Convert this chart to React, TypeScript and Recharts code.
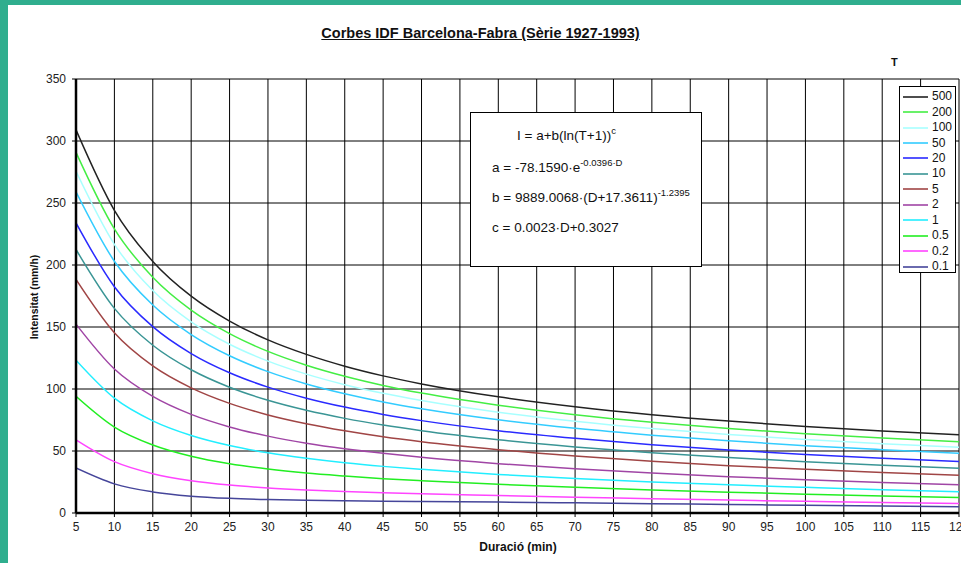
import React from 'react';
import { LineChart, Line, XAxis, YAxis, CartesianGrid, Legend } from 'recharts';

const FONT = '"Liberation Sans", Arial, Helvetica, sans-serif';

// Duration (min)
const durations = [5, 10, 15, 20, 25, 30, 35, 40, 45, 50, 60, 70, 80, 90, 100, 110, 120];
// Return periods T (years)
const returnPeriods = ['500', '200', '100', '50', '20', '10', '5', '2', '1', '0.5', '0.2', '0.1'];

// Intensity (mm/h) per return period
const t500 = [309.0, 244.1, 202.9, 174.9, 154.8, 139.6, 127.9, 118.4, 110.6, 104.1, 93.7, 85.7, 79.3, 74.1, 69.8, 66.1, 63.1];
const t200 = [290.8, 229.1, 190.1, 163.6, 144.6, 130.3, 119.2, 110.3, 102.9, 96.7, 86.9, 79.2, 73.1, 68.1, 64.0, 60.5, 57.5];
const t100 = [275.6, 216.7, 179.4, 154.2, 136.1, 122.5, 112.0, 103.5, 96.5, 90.7, 81.3, 74.0, 68.1, 63.3, 59.3, 55.9, 53.0];
const t50 = [259.0, 203.0, 167.7, 143.9, 126.8, 114.0, 104.1, 96.2, 89.6, 84.1, 75.2, 68.3, 62.8, 58.2, 54.3, 51.1, 48.2];
const t20 = [234.0, 182.5, 150.3, 128.6, 113.1, 101.5, 92.6, 85.4, 79.5, 74.5, 66.4, 60.2, 55.0, 50.8, 47.2, 44.2, 41.5];
const t10 = [212.5, 165.0, 135.3, 115.5, 101.4, 90.9, 82.8, 76.3, 70.9, 66.4, 59.1, 53.3, 48.6, 44.7, 41.4, 38.5, 36.1];
const t5 = [188.3, 145.3, 118.6, 100.9, 88.4, 79.1, 72.0, 66.3, 61.5, 57.5, 51.1, 46.0, 41.8, 38.2, 35.2, 32.6, 30.4];
const t2 = [152.3, 116.1, 94.0, 79.5, 69.4, 62.0, 56.3, 51.8, 48.1, 44.9, 39.8, 35.7, 32.2, 29.3, 26.8, 24.6, 22.7];
const t1 = [123.2, 92.6, 74.3, 62.5, 54.4, 48.5, 44.1, 40.5, 37.6, 35.2, 31.1, 27.9, 25.1, 22.7, 20.7, 18.8, 17.2];
const t05 = [94.1, 69.3, 54.9, 45.8, 39.7, 35.4, 32.2, 29.8, 27.7, 26.0, 23.1, 20.7, 18.6, 16.8, 15.2, 13.7, 12.5];
const t02 = [59.0, 41.4, 31.7, 26.0, 22.5, 20.2, 18.6, 17.4, 16.4, 15.5, 14.1, 12.7, 11.5, 10.4, 9.4, 8.4, 7.6];
const t01 = [36.3, 23.5, 17.0, 13.6, 11.8, 10.8, 10.2, 9.8, 9.5, 9.3, 8.8, 8.2, 7.5, 6.9, 6.2, 5.6, 5.0];

const xTicks = [5, 10, 15, 20, 25, 30, 35, 40, 45, 50, 55, 60, 65, 70, 75, 80, 85, 90, 95, 100, 105, 110, 115, 120];
const yTicks = [0, 50, 100, 150, 200, 250, 300, 350];

const seriesValues = [t500, t200, t100, t50, t20, t10, t5, t2, t1, t05, t02, t01];
const seriesColors = [
  '#222222', '#44ee44', '#a8ffff', '#33ccff', '#2a2aff', '#3a9595',
  '#a04545', '#a045a5', '#22eeff', '#22ee22', '#ff44ff', '#45459a',
];

const data = durations.map((d, i) => {
  const row: Record<string, number> = { d };
  seriesValues.forEach((vals, k) => {
    row['s' + k] = vals[i];
  });
  return row;
});

const renderLegend = () => (
  <div
    style={{
      width: 57,
      height: 187,
      border: '1px solid #000',
      background: '#fff',
      boxSizing: 'border-box',
      paddingTop: 2,
      fontFamily: FONT,
      fontSize: 12,
      color: '#111',
    }}
  >
    {returnPeriods.map((t, k) => (
      <div key={t} style={{ display: 'flex', alignItems: 'center', height: 15.45 }}>
        <svg width={25} height={4} style={{ marginLeft: 3, marginRight: 4, display: 'block' }}>
          <line x1={0} y1={2} x2={25} y2={2} stroke={seriesColors[k]} strokeWidth={1.6} />
        </svg>
        <span style={{ lineHeight: '13px' }}>{t}</span>
      </div>
    ))}
  </div>
);

const sup: React.CSSProperties = { fontSize: 9.5, position: 'relative', top: -6 };

export default function App() {
  return (
    <div
      style={{
        position: 'absolute',
        left: 0,
        top: 0,
        width: 961,
        height: 563,
        background: '#fff',
        overflow: 'hidden',
        fontFamily: FONT,
      }}
    >
      <div style={{ position: 'absolute', left: 0, top: 0, width: 961, height: 5, background: '#2fae8e' }} />
      <div style={{ position: 'absolute', left: 0, top: 0, width: 8, height: 563, background: '#2fae8e' }} />

      <div
        style={{
          position: 'absolute',
          left: 0,
          top: 24,
          width: 961,
          textAlign: 'center',
          fontSize: 14.5,
          fontWeight: 'bold',
          textDecoration: 'underline',
          color: '#111',
          lineHeight: '18px',
        }}
      >
        Corbes IDF Barcelona-Fabra (Sèrie 1927-1993)
      </div>

      <div style={{ position: 'absolute', left: 891, top: 55, fontSize: 11, fontWeight: 'bold', color: '#111', lineHeight: '14px' }}>
        T
      </div>

      <LineChart
        width={961}
        height={563}
        data={data}
        margin={{ top: 79, right: 2, bottom: 20, left: 16 }}
        style={{ position: 'absolute', left: 0, top: 0 }}
      >
        <CartesianGrid stroke="#000" strokeWidth={1} />
        <XAxis
          type="number"
          dataKey="d"
          domain={[5, 120]}
          ticks={xTicks}
          interval={0}
          height={30}
          tickSize={4}
          tickMargin={5}
          axisLine={{ stroke: '#000', strokeWidth: 2.5 }}
          tickLine={{ stroke: '#000' }}
          tick={{ fontSize: 12, fill: '#222', fontFamily: FONT }}
          allowDataOverflow
        />
        <YAxis
          type="number"
          domain={[0, 350]}
          ticks={yTicks}
          interval={0}
          width={60}
          tickSize={4}
          tickMargin={6}
          axisLine={{ stroke: '#000', strokeWidth: 2.5 }}
          tickLine={{ stroke: '#000' }}
          tick={{ fontSize: 12, fill: '#222', fontFamily: FONT }}
        />
        {returnPeriods.map((t, k) => (
          <Line
            key={t}
            type="monotone"
            dataKey={'s' + k}
            name={t}
            stroke={seriesColors[k]}
            strokeWidth={1.5}
            dot={false}
            activeDot={false}
            isAnimationActive={false}
          />
        ))}
        <Legend
          layout="vertical"
          align="center"
          verticalAlign="middle"
          content={renderLegend}
          wrapperStyle={{ left: 899, top: 86, width: 57, height: 187 }}
        />
      </LineChart>

      <div
        style={{
          position: 'absolute',
          left: 470,
          top: 112,
          width: 232,
          height: 155,
          border: '1px solid #000',
          background: '#fff',
          boxSizing: 'border-box',
          fontSize: 13.5,
          color: '#111',
          lineHeight: '16px',
        }}
      >
        <div style={{ position: 'absolute', left: 46, top: 15, whiteSpace: 'nowrap' }}>
          I = a+b(ln(T+1))<span style={sup}>c</span>
        </div>
        <div style={{ position: 'absolute', left: 21, top: 47, whiteSpace: 'nowrap' }}>
          a = -78.1590·e<span style={sup}>-0.0396·D</span>
        </div>
        <div style={{ position: 'absolute', left: 21, top: 77, whiteSpace: 'nowrap' }}>
          b = 9889.0068·(D+17.3611)<span style={sup}>-1.2395</span>
        </div>
        <div style={{ position: 'absolute', left: 21, top: 107, whiteSpace: 'nowrap' }}>
          c = 0.0023·D+0.3027
        </div>
      </div>

      <div
        style={{
          position: 'absolute',
          left: 34 - 60,
          top: 297 - 7,
          width: 120,
          height: 14,
          lineHeight: '14px',
          textAlign: 'center',
          transform: 'rotate(-90deg)',
          fontSize: 10.5,
          fontWeight: 'bold',
          color: '#111',
        }}
      >
        Intensitat (mm/h)
      </div>

      <div
        style={{
          position: 'absolute',
          left: 518 - 80,
          top: 540,
          width: 160,
          textAlign: 'center',
          fontSize: 12,
          fontWeight: 'bold',
          color: '#111',
          lineHeight: '14px',
        }}
      >
        Duració (min)
      </div>
    </div>
  );
}
